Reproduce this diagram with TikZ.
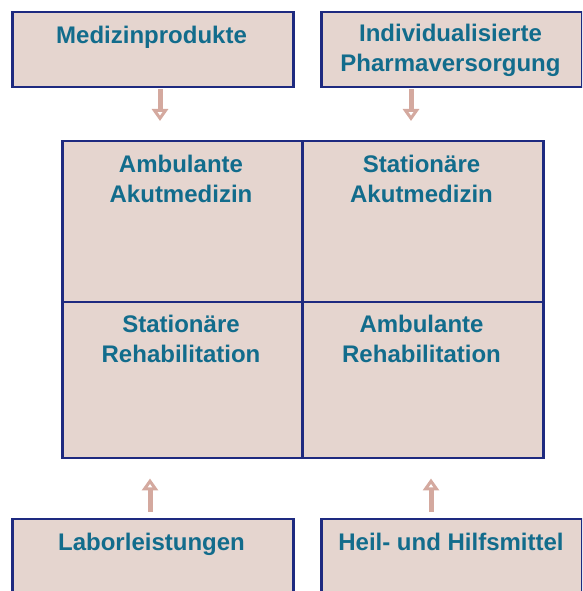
\documentclass[tikz,border=0pt]{standalone}
\usepackage{fontspec}
\setmainfont{Liberation Sans}
\usetikzlibrary{arrows.meta,positioning}
\definecolor{boxfill}{RGB}{229,213,207}
\definecolor{boxline}{RGB}{30,42,128}
\definecolor{txtblue}{RGB}{18,108,140}
\definecolor{arrowcol}{RGB}{212,169,159}
\tikzset{
  box/.style={draw=boxline, fill=boxfill, line width=2.5pt, inner sep=0pt,
    anchor=north west},
  lbl/.style={text=txtblue, font=\bfseries\fontsize{24}{30}\selectfont,
    align=center, inner sep=0pt},
  flow/.style={draw=arrowcol, line width=5pt,
    -{Triangle[open,length=12pt,width=16pt]}}
}
\begin{document}
\begin{tikzpicture}[x=1pt,y=1pt]
  \clip (0,0) rectangle (582,591);
  % supply boxes at the top
  \node[box, minimum width=281pt, minimum height=75pt] (med) at (11,580) {};
  \node[box, minimum width=261pt, minimum height=75pt] (pharma) at (320,580) {};
  \node[lbl, anchor=base] (medtxt) at (151.5,547) {Medizinprodukte};
  \node[lbl] (pharmatxt) at (450.5,541) {Individualisierte\\Pharmaversorgung};
  % the four sectors
  \node[box, minimum width=240pt, minimum height=161pt] (ambakut) at (61,451) {};
  \node[box, minimum width=241pt, minimum height=161pt] (statakut) at (301,451) {};
  \node[box, minimum width=240pt, minimum height=156pt] (statreha) at (61,290) {};
  \node[box, minimum width=241pt, minimum height=156pt] (ambreha) at (301,290) {};
  \node[lbl] (ambakuttxt) at (181,412) {Ambulante\\Akutmedizin};
  \node[lbl] (statakuttxt) at (421.5,412) {Stationäre\\Akutmedizin};
  \node[lbl] (statrehatxt) at (181,252) {Stationäre\\Rehabilitation};
  \node[lbl] (ambrehatxt) at (421.5,252) {Ambulante\\Rehabilitation};
  % supply boxes at the bottom
  \node[box, minimum width=281pt, minimum height=90pt] (labor) at (11,73) {};
  \node[box, minimum width=261pt, minimum height=90pt] (heil) at (320,73) {};
  \node[lbl, anchor=base] (labortxt) at (151.5,40) {Laborleistungen};
  \node[lbl, anchor=base] (heiltxt) at (451,40) {Heil- und Hilfsmittel};
  % arrows
  \coordinate (medout) at (med.south -| 160,0);
  \coordinate (medin) at (ambakut.north -| 160,0);
  \coordinate (pharmaout) at (pharma.south -| 411,0);
  \coordinate (pharmain) at (statakut.north -| 411,0);
  \coordinate (laborout) at (labor.north -| 150,0);
  \coordinate (laborin) at (statreha.south -| 150,0);
  \coordinate (heilout) at (heil.north -| 431,0);
  \coordinate (heilin) at (ambreha.south -| 431,0);
  \draw[flow, shorten <=1pt, shorten >=19pt] (medout) -- (medin);
  \draw[flow, shorten <=1pt, shorten >=19pt] (pharmaout) -- (pharmain);
  \draw[flow, shorten <=6pt, shorten >=19pt] (laborout) -- (laborin);
  \draw[flow, shorten <=6pt, shorten >=19pt] (heilout) -- (heilin);
\end{tikzpicture}
\end{document}
